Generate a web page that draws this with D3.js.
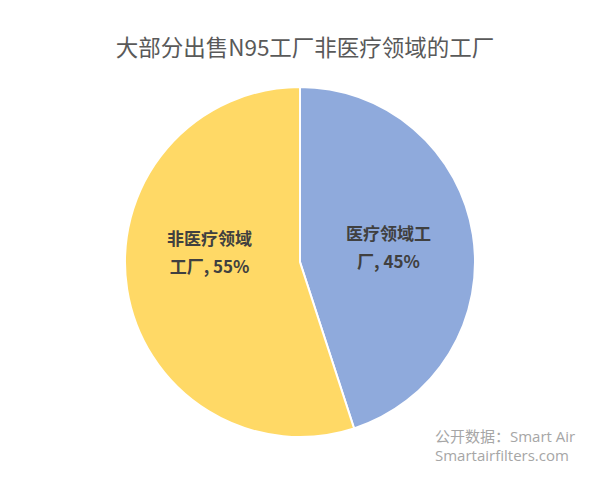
<!DOCTYPE html>
<html><head><meta charset="utf-8">
<script src="https://cdn.jsdelivr.net/npm/d3@7"></script>
<style>body{margin:0;background:#fff}svg{display:block}</style>
</head><body>
<svg id="c" width="600" height="481"></svg>
<script>
const title = "大部分出售N95工厂非医疗领域的工厂";
const categories = ["医疗领域工厂", "非医疗领域工厂"];
const values = [45, 55];
const labelLines = [["医疗领域工", "厂, 45%"], ["非医疗领域", "工厂, 55%"]];
const colors = ["#8FAADC", "#FFD966"];
const sourceLines = ["公开数据：Smart Air", "Smartairfilters.com"];

const svg = d3.select("#c");
const font = "'Noto Sans CJK SC','Noto Sans',sans-serif";
svg.append("rect").attr("width",600).attr("height",481).attr("fill","#fff");
svg.append("text").attr("x",305).attr("y",56).attr("text-anchor","middle")
  .attr("font-family",font).attr("font-size",22.5).attr("fill","#595959").text(title);

const cx = 300, cy = 262, r = 175;
const pie = d3.pie().sort(null).value(d=>d)(values);
const arc = d3.arc().innerRadius(0).outerRadius(r);
const g = svg.append("g").attr("transform",`translate(${cx},${cy})`);
g.selectAll("path").data(pie).join("path").attr("d",arc)
  .attr("fill",(d,i)=>colors[i]).attr("stroke","#fff").attr("stroke-width",2);

const labelArc = d3.arc().innerRadius(r*0.5).outerRadius(r*0.5);
const labelShift = [[2,0],[-4,-23]];
pie.forEach((d,i)=>{
  const [x0,y0] = labelArc.centroid(d);
  const x = x0 + labelShift[i][0], y = y0 + labelShift[i][1];
  const t = g.append("text").attr("text-anchor","middle")
    .attr("font-family",font).attr("font-weight","bold").attr("font-size",17).attr("fill","#404040");
  labelLines[i].forEach((ln,j)=>{
    t.append("tspan").attr("x",x).attr("y",y + (j-0.5)*28 + 6).text(ln);
  });
});

const s = svg.append("text").attr("font-family","'Open Sans','Noto Sans CJK SC',sans-serif").attr("font-size",15).attr("fill","#A6A6A6");
sourceLines.forEach((ln,j)=>{
  s.append("tspan").attr("x",435).attr("y",442 + j*19).text(ln);
});
</script>
</body></html>
